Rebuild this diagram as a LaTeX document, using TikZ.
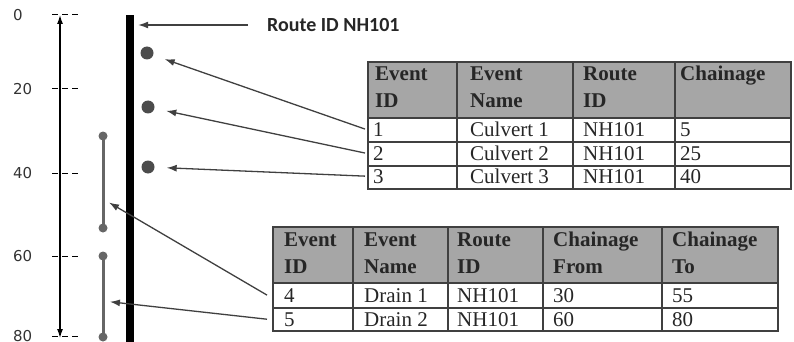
\documentclass[tikz,border=0pt]{standalone}
\usepackage{fontspec}
\setmainfont{Liberation Serif}
\newfontfamily\routefont{Carlito}
\newfontfamily\scalefont{DejaVu Sans}
\usetikzlibrary{arrows.meta,positioning,calc}

\tikzset{
  ptr/.style={-{Latex[length=10pt,width=7pt]}, line width=1.3pt, draw=black!75},
  tabline/.style={draw=black!75, line width=1.2pt},
  thead/.style={anchor=base west, inner sep=0pt, align=left, font=\fontsize{21}{27}\selectfont\bfseries, text=black!85},
  tcell/.style={anchor=base west, inner sep=0pt, font=\fontsize{21}{25}\selectfont, text=black!85},
  scaletick/.style={dash pattern=on 6pt off 4pt, line width=1pt},
  spot/.style={circle, fill=black!70, inner sep=0pt, minimum size=13pt},
  knob/.style={circle, fill=black!60, inner sep=0pt, minimum size=9pt},
}

\begin{document}
\begin{tikzpicture}[x=1pt,y=-1pt]
    \useasboundingbox (0,0) rectangle (794,342);

    % chainage scale
    \foreach \v/\y in {0/15,20/89,40/173,60/256,80/336} {
        \node[anchor=west, inner sep=0pt, font=\scalefont\fontsize{15}{17}\selectfont, text=black!80] (s\v) at (13,\y) {\v};
        \draw[scaletick] (52,\y) -- (78,\y);
    }
    \coordinate (top) at (60,15);
    \coordinate (bot) at (60,338);
    \draw[{Latex[length=9pt,width=6pt]}-{Latex[length=9pt,width=6pt]}, line width=1.2pt] (top) -- (bot);

    % route
    \node[fill=black, inner sep=0pt, minimum width=8pt, minimum height=330pt, anchor=north] (route) at (130,15) {};
    \node[anchor=west, inner sep=0pt, font=\routefont\bfseries\fontsize{20}{24}\selectfont, text=black!85] (rid) at (267,25) {Route ID NH101};
    \draw[ptr, shorten <=19pt, shorten >=4pt] (rid.west) -- (rid.west -| route.east);

    % culverts
    \node[spot] (c1) at (147,53) {};
    \node[spot] (c2) at (148,107) {};
    \node[spot] (c3) at (148,167) {};

    % drains
    \node[knob] (d1a) at (103,136) {};
    \node[knob] (d1b) at (103,228) {};
    \node[knob] (d2a) at (103,256) {};
    \node[knob] (d2b) at (103,337) {};
    \draw[line width=3pt, black!60] (d1a.center) -- (d1b.center);
    \draw[line width=3pt, black!60] (d2a.center) -- (d2b.center);
    \coordinate (dr1) at (103,199);
    \coordinate (dr2) at (103,301);

    % point events table
    \fill[black!35] (368,62) rectangle (791,118);
    \draw[tabline] (368,62) rectangle (791,189);
    \foreach \y in {118,142,166} \draw[tabline] (368,\y) -- (791,\y);
    \foreach \x in {457,573,675} \draw[tabline] (\x,62) -- (\x,189);
    \foreach \x/\y/\t [count=\j] in {375/108/{Event\\ID}, 470/108/{Event\\Name}, 583/108/{Route\\ID}, 680/81/{Chainage}}
        \node[thead] (ha\j) at (\x,\y) {\t};
    \foreach \y/\a/\b/\c/\d [count=\i] in {136/1/Culvert 1/NH101/5, 160/2/Culvert 2/NH101/25, 183/3/Culvert 3/NH101/40} {
        \node[tcell] (e\i) at (373,\y) {\a};
        \node[tcell] (n\i) at (470,\y) {\b};
        \node[tcell] (r\i) at (583,\y) {\c};
        \node[tcell] (k\i) at (680,\y) {\d};
    }
    \draw[ptr, shorten >=12pt] ($(e1.west)+(-8,0)$) -- (c1);
    \draw[ptr, shorten >=12pt] ($(e2.west)+(-8,0)$) -- (c2);
    \draw[ptr, shorten >=12pt] ($(e3.west)+(-8,0)$) -- (c3);

    % linear events table
    \fill[black!35] (273,227) rectangle (778,283);
    \draw[tabline] (273,227) rectangle (778,331);
    \foreach \y in {283,308} \draw[tabline] (273,\y) -- (778,\y);
    \foreach \x in {353,448,543,662} \draw[tabline] (\x,227) -- (\x,331);
    \foreach \x/\t [count=\j] in {284/{Event\\ID}, 364/{Event\\Name}, 457/{Route\\ID}, 553/{Chainage\\From}, 672/{Chainage\\To}}
        \node[thead] (hb\j) at (\x,273) {\t};
    \foreach \y/\a/\b/\c/\d/\e [count=\i] in {302/4/Drain 1/NH101/30/55, 326/5/Drain 2/NH101/60/80} {
        \node[tcell] (f\i) at (284,\y) {\a};
        \node[tcell] (m\i) at (364,\y) {\b};
        \node[tcell] (q\i) at (457,\y) {\c};
        \node[tcell] (u\i) at (553,\y) {\d};
        \node[tcell] (w\i) at (672,\y) {\e};
    }
    \draw[ptr, shorten >=7pt] ($(f1.west)+(-17,0)$) -- (dr1);
    \draw[ptr, shorten >=7pt] ($(f2.west)+(-17,0)$) -- (dr2);
\end{tikzpicture}
\end{document}
